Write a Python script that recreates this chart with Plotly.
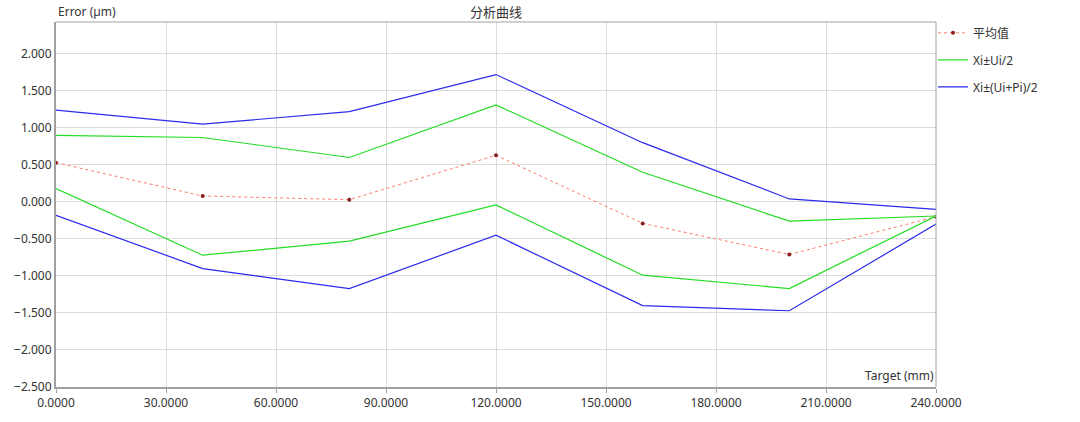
import plotly.graph_objects as go

target = [0, 40, 80, 120, 160, 200, 240]
mean_vals = [0.53, 0.08, 0.03, 0.63, -0.29, -0.71, -0.20]
ui_upper = [0.90, 0.87, 0.60, 1.31, 0.40, -0.26, -0.19]
ui_lower = [0.18, -0.72, -0.53, -0.04, -0.99, -1.17, -0.19]
uip_upper = [1.24, 1.05, 1.22, 1.72, 0.80, 0.04, -0.10]
uip_lower = [-0.18, -0.90, -1.17, -0.45, -1.40, -1.47, -0.30]

x_ticks = [0, 30, 60, 90, 120, 150, 180, 210, 240]
y_ticks = [-2.5, -2.0, -1.5, -1.0, -0.5, 0.0, 0.5, 1.0, 1.5, 2.0]

FONT = "Noto Sans, Noto Sans CJK SC, sans-serif"

fig = go.Figure()
fig.add_trace(go.Scatter(
    x=target, y=mean_vals, name="平均值", mode="lines+markers",
    legendgroup="g1",
    line=dict(color="#ff7a6a", width=1, dash="dot"),
    marker=dict(color="#8b2020", size=4),
))
fig.add_trace(go.Scatter(
    x=target + [None] + target, y=ui_upper + [None] + ui_lower,
    name="Xi±Ui/2", mode="lines", legendgroup="g2",
    line=dict(color="#22dd22", width=1.2),
))
fig.add_trace(go.Scatter(
    x=target + [None] + target, y=uip_upper + [None] + uip_lower,
    name="Xi±(Ui+Pi)/2", mode="lines", legendgroup="g3",
    line=dict(color="#2a2aee", width=1.2),
))

fig.update_layout(
    width=1080, height=422,
    margin=dict(l=56, r=144, t=22, b=35),
    paper_bgcolor="white", plot_bgcolor="white",
    font=dict(family=FONT, size=12, color="#333333"),
    title=dict(text="分析曲线", x=0.5, xref="paper", y=0.9716, yref="container",
               yanchor="middle",
               font=dict(size=13, color="#333333")),
    showlegend=True,
    legend=dict(x=0.9966, y=1.01, xanchor="left", yanchor="top",
                font=dict(size=12, color="#333333"), tracegroupgap=8,
                itemwidth=30, bgcolor="rgba(0,0,0,0)"),
    xaxis=dict(range=[0, 240], tickvals=x_ticks, tickformat=".4f",
               showgrid=True, gridcolor="#dcdcdc", gridwidth=1,
               showline=True, linecolor="#a0a0a0", linewidth=2, mirror=False,
               ticks="outside", ticklen=4, tickcolor="#a0a0a0", zeroline=False,
               automargin=False,
               tickfont=dict(size=12, color="#333333")),
    yaxis=dict(range=[-2.5, 2.43], tickvals=y_ticks, tickformat=".3f",
               showgrid=True, gridcolor="#dcdcdc", gridwidth=1,
               showline=True, linecolor="#a0a0a0", linewidth=2, mirror=False,
               ticks="", zeroline=False, automargin=False,
               tickfont=dict(size=12, color="#333333")),
    annotations=[
        dict(text="Error (µm)", xref="paper", yref="paper", x=0.0, y=1.0,
             xanchor="left", yanchor="bottom", showarrow=False, yshift=0,
             font=dict(size=12, color="#333333")),
        dict(text="Target (mm)", xref="paper", yref="paper", x=1.0, y=0.0,
             xanchor="right", yanchor="bottom", showarrow=False, yshift=1,
             font=dict(size=12, color="#333333")),
    ],
    shapes=[
        dict(type="line", xref="paper", yref="paper", x0=0, x1=1, y0=1, y1=1,
             line=dict(color="#a0a0a0", width=1)),
        dict(type="line", xref="paper", yref="paper", x0=1, x1=1, y0=0, y1=1,
             line=dict(color="#a0a0a0", width=1)),
    ],
)

fig.write_html("out.html", config={"displayModeBar": False},
               post_script="document.body.style.margin='0px';document.body.style.overflow='hidden';")
